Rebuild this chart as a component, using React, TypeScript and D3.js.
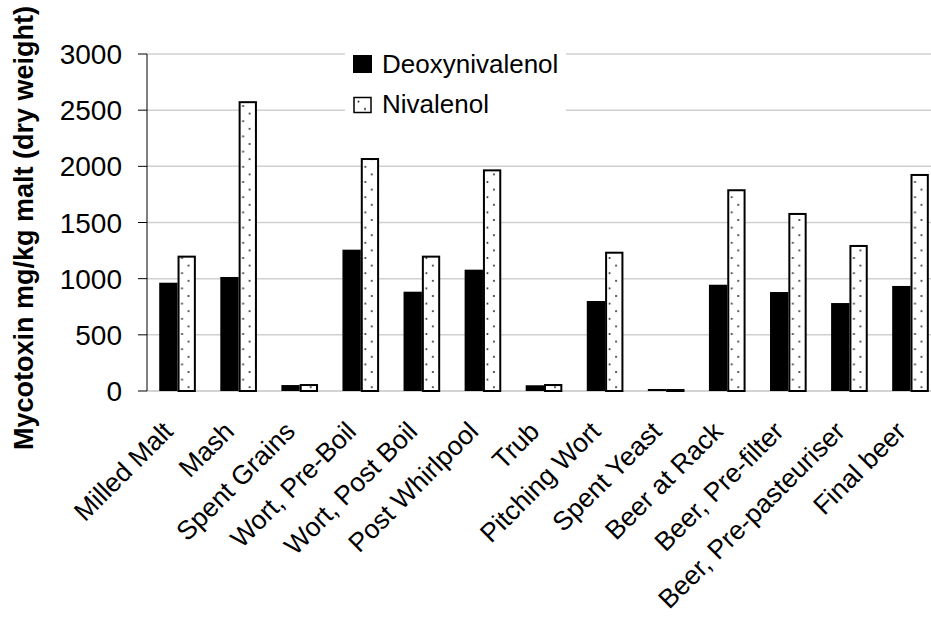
import React from 'react';
import * as d3 from 'd3';

const categories = [
  'Milled Malt', 'Mash', 'Spent Grains', 'Wort, Pre-Boil', 'Wort, Post Boil', 'Post Whirlpool',
  'Trub', 'Pitching Wort', 'Spent Yeast', 'Beer at Rack', 'Beer, Pre-filter', 'Beer, Pre-pasteuriser', 'Final beer',
];
const deoxynivalenol = [964, 1015, 53, 1258, 884, 1080, 51, 801, 18, 946, 881, 783, 935];
const nivalenol = [1205, 2580, 62, 2074, 1205, 1973, 62, 1240, 18, 1796, 1585, 1300, 1932];
const seriesNames = ['Deoxynivalenol', 'Nivalenol'];
const yTicks = [0, 500, 1000, 1500, 2000, 2500, 3000];
const yTitle = 'Mycotoxin mg/kg malt (dry weight)';

const W = 931;
const H = 620;
const FONT = "'Liberation Sans', Arial, Helvetica, sans-serif";

export default function App() {
  const x0 = 147;
  const x = d3.scaleBand<string>().domain(categories).range([x0, x0 + 13 * 61.08]).paddingInner(0.4).paddingOuter(0.2);
  const xs = d3.scaleBand<string>().domain(seriesNames).range([0, x.bandwidth()]).padding(0);
  const y = d3.scaleLinear().domain([0, 3000]).range([391, 54]);
  const bw = xs.bandwidth();

  return (
    <svg width={W} height={H} style={{ position: 'absolute', left: 0, top: 0, background: '#fff' }} fontFamily={FONT}>
      <defs>
        {categories.map((c, i) => {
          const bx = (x(c) as number) + (xs('Nivalenol') as number);
          return (
            <pattern key={i} id={`dots${i}`} patternUnits="userSpaceOnUse" x={bx} y={y(0)} width={14} height={15.2}>
              <rect width={14} height={15.2} fill="#fff" />
              <circle cx={4.5} cy={3.8} r={1} fill="#222" />
              <circle cx={11} cy={11.4} r={1} fill="#222" />
            </pattern>
          );
        })}
        <pattern id="legdots" patternUnits="userSpaceOnUse" x={354} y={97} width={14} height={15.2}>
          <rect width={14} height={15.2} fill="#fff" />
          <circle cx={4.5} cy={4.5} r={1} fill="#222" />
          <circle cx={11} cy={12} r={1} fill="#222" />
        </pattern>
      </defs>

      {/* gridlines */}
      {yTicks.filter(t => t > 0).map(t => (
        <line key={t} x1={x0} x2={W} y1={y(t)} y2={y(t)} stroke="#d0d0d0" strokeWidth={1.5} />
      ))}
      <line x1={x0} x2={W} y1={y(0)} y2={y(0)} stroke="#c4c4c4" strokeWidth={1.5} />

      {/* bars */}
      {categories.map((c, i) => {
        const gx = x(c) as number;
        const bx1 = gx + (xs('Deoxynivalenol') as number);
        const bx2 = gx + (xs('Nivalenol') as number);
        const v1 = deoxynivalenol[i];
        const v2 = nivalenol[i];
        return (
          <g key={c}>
            <rect x={bx1} y={y(v1)} width={bw} height={y(0) - y(v1)} fill="#000" />
            <rect x={bx2 + 1} y={y(v2) + 1} width={bw - 2} height={Math.max(0, y(0) - y(v2) - 1)}
              fill={`url(#dots${i})`} stroke="#000" strokeWidth={2} />
          </g>
        );
      })}

      {/* y axis */}
      <line x1={x0} x2={x0} y1={y(3000)} y2={y(0)} stroke="#000" strokeWidth={1} />
      {yTicks.map(t => (
        <g key={t}>
          <line x1={x0 - 9} x2={x0} y1={y(t)} y2={y(t)} stroke="#000" strokeWidth={1} />
          <text x={122} y={y(t) + 10} textAnchor="end" fontSize={28} fill="#000">{t}</text>
        </g>
      ))}

      {/* category labels */}
      {categories.map(c => {
        const cx = (x(c) as number) + x.bandwidth() / 2;
        return (
          <text key={c} transform={`translate(${cx - 3},433) rotate(-45)`} textAnchor="end" fontSize={26.5} fill="#000">{c}</text>
        );
      })}

      {/* y title */}
      <text transform={`translate(33,228) rotate(-90)`} textAnchor="middle" fontSize={27} fontWeight="bold" fill="#000">{yTitle}</text>

      {/* legend */}
      <rect x={345} y={40} width={221} height={88} fill="#fff" />
      <rect x={353} y={55} width={19} height={18} fill="#000" />
      <text x={382} y={73} fontSize={26} fill="#000">{seriesNames[0]}</text>
      <rect x={354} y={97.5} width={17} height={15} fill="url(#legdots)" stroke="#000" strokeWidth={1.5} />
      <text x={382} y={113} fontSize={26} fill="#000">{seriesNames[1]}</text>
    </svg>
  );
}
